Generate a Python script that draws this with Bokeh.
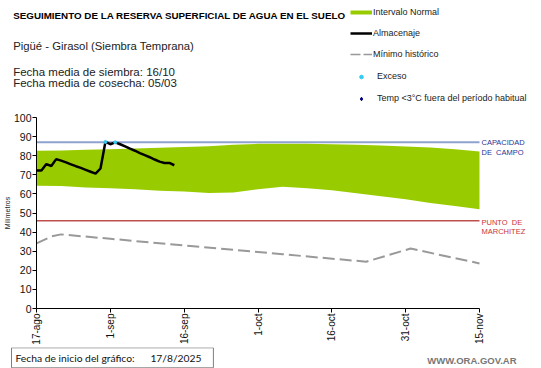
import math
from bokeh.plotting import figure
from bokeh.layouts import column
from bokeh.models import Range1d, FixedTicker, Label, Legend, LegendItem
from bokeh.embed import file_html
from bokeh.resources import INLINE

# ---- data (days since 17-ago) ----
band_days = [0, 5, 10, 15, 20, 25, 30, 35, 40, 45, 50, 55, 60, 65, 70, 75, 80, 85, 90]
band_upper = [82.6, 82.7, 83.1, 83.4, 83.8, 84.2, 84.5, 85.0, 85.7, 86.2, 86.3, 86.3,
              86.0, 85.7, 85.3, 84.8, 84.3, 83.4, 82.2]
band_lower = [64.3, 64.1, 63.4, 62.9, 62.4, 61.7, 61.2, 60.5, 60.7, 62.4, 63.8, 62.9,
              61.9, 60.3, 58.8, 57.2, 55.3, 53.6, 52.0]

stor_days = list(range(0, 29))
stor_values = [72.3, 72.2, 75.6, 74.6, 78.2, 77.4, 76.5, 75.5, 74.5, 73.6, 72.6, 71.6,
               70.6, 73.3, 87.2, 86.0, 87.0, 86.0, 84.9, 83.7, 82.6, 81.4, 80.3, 79.2,
               78.0, 76.9, 76.2, 76.2, 75.0]

exceso_days = [14, 16]
exceso_values = [87.2, 87.0]

min_days = [0, 3, 5, 15, 30, 50, 67, 76, 90]
min_values = [34.1, 37.7, 38.8, 36.5, 33.0, 28.4, 24.5, 31.4, 23.6]

x_ticks = [0, 15, 30, 45, 60, 75, 90]
x_tick_labels = ["17-ago", "1-sep", "16-sep", "1-oct", "16-oct", "31-oct", "15-nov"]
y_ticks = [0, 10, 20, 30, 40, 50, 60, 70, 80, 90, 100]

capacidad_campo = 87
punto_marchitez = 46
x_start, x_end = 0, 90

FONT = "Liberation Sans"
W = 541
L = 36          # left border of the chart
NB = "\u00a0"


def bare(fig):
    fig.outline_line_color = None
    fig.xgrid.grid_line_color = None
    fig.ygrid.grid_line_color = None
    fig.background_fill_color = "white"
    fig.border_fill_color = "white"


def label(fig, x, y, text, size, color="#000000", bold=False, font=FONT, units="data", **kw):
    fig.add_layout(Label(x=x, y=y, x_units=units, y_units=units, text=text,
                         text_font=font, text_font_size=size, text_color=color,
                         text_font_style="bold" if bold else "normal",
                         text_baseline="middle", **kw))


def panel_fig(h):
    f = figure(width=W, height=h, x_range=Range1d(0, W), y_range=Range1d(h, 0),
               output_backend="svg", toolbar_location=None, title=None,
               x_axis_type=None, y_axis_type=None, frame_align=False,
               min_border_left=0, min_border_right=0, min_border_top=0, min_border_bottom=0)
    bare(f)
    return f


# ================= header (title + legend); data units = page pixels =================
HH = 108
head = panel_fig(HH)

label(head, 12.7, 15, "SEGUIMIENTO DE LA RESERVA SUPERFICIAL DE AGUA EN EL SUELO", "9.8px", bold=True)
label(head, 12.7, 45, "Pigüé - Girasol (Siembra Temprana)", "11.3px", color="#222222")
label(head, 12.7, 71.7, "Fecha media de siembra: 16/10", "11.5px", color="#222222")
label(head, 12.7, 82.7, "Fecha media de cosecha: 05/03", "11.5px", color="#222222")

# legend-only renderers, kept outside the visible area
off_x, off_y = [-200, -190], [-50, -50]
h_green = head.line(x=off_x, y=off_y, line_color="#99CC00", line_width=4)
h_stor = head.line(x=off_x, y=off_y, line_color="#000000", line_width=2.5)
h_min = head.line(x=off_x, y=off_y, line_color="#999999", line_width=1.5, line_dash="10 3")
h_exc = head.scatter(x=off_x[:1], y=off_y[:1], marker="circle", size=3,
                     fill_color="#33CCEE", line_color="#33CCEE")
h_temp = head.scatter(x=off_x[:1], y=off_y[:1], marker="diamond", size=6,
                      fill_color="#000080", line_color="#000080")

common = dict(glyph_width=22, label_height=12, padding=0, margin=0,
              border_line_color=None, background_fill_alpha=0,
              label_text_font_size="9px", label_text_font=FONT,
              label_text_color="#222222")
leg1 = Legend(items=[LegendItem(label="Intervalo Normal", renderers=[h_green]),
                     LegendItem(label="Almacenaje", renderers=[h_stor]),
                     LegendItem(label="Mínimo histórico", renderers=[h_min])],
              location=(350, 48), spacing=9, label_standoff=1, glyph_height=12, **common)
leg2 = Legend(items=[LegendItem(label="Exceso", renderers=[h_exc]),
                     LegendItem(label="Temp <3°C fuera del período habitual", renderers=[h_temp])],
              location=(350, 4), spacing=10, label_standoff=5, glyph_height=9, **common)
head.add_layout(leg1)
head.add_layout(leg2)

# ================= main chart =================
MH = 239
px_per_day = (479 - L) / (x_end - x_start)
x_max = x_start + (W - L) / px_per_day
p = figure(width=W, height=MH, x_range=Range1d(x_start, x_max), y_range=Range1d(0, 100),
           output_backend="svg", toolbar_location=None, title=None, frame_align=False,
           min_border_left=L, min_border_right=0, min_border_top=9, min_border_bottom=36)
bare(p)

p.xaxis.ticker = FixedTicker(ticks=x_ticks)
p.xaxis.major_label_overrides = {t: l for t, l in zip(x_ticks, x_tick_labels)}
p.xaxis.major_label_orientation = math.pi / 2
p.xaxis.bounds = (x_start, x_end)
p.yaxis.ticker = FixedTicker(ticks=y_ticks)
p.yaxis.axis_label = "Milímetros"
p.yaxis.axis_label_text_font = FONT
p.yaxis.axis_label_text_font_size = "7px"
p.yaxis.axis_label_text_font_style = "normal"
p.yaxis.axis_label_text_color = "#222222"
p.yaxis.axis_label_standoff = 0
for ax in (p.xaxis, p.yaxis):
    ax.axis_line_color = "#000000"
    ax.axis_line_width = 1
    ax.major_tick_line_color = "#000000"
    ax.major_tick_out = 4
    ax.major_tick_in = 0
    ax.minor_tick_line_color = None
    ax.major_label_text_font = FONT
    ax.major_label_text_color = "#111111"
p.xaxis.major_label_text_font_size = "10px"
p.yaxis.major_label_text_font_size = "10.5px"
p.xaxis.major_label_standoff = 1
p.yaxis.major_label_standoff = 1

p.varea(x=band_days, y1=band_lower, y2=band_upper, fill_color="#99CC00")
p.line([x_start, x_end], [capacidad_campo, capacidad_campo], line_color="#8EA2D0", line_width=2)
p.line([x_start, x_end], [punto_marchitez, punto_marchitez], line_color="#C0504D", line_width=1.5)
p.line(min_days, min_values, line_color="#999999", line_width=2, line_dash="12 5")
p.line(stor_days, stor_values, line_color="#000000", line_width=2.5)
p.scatter(exceso_days, exceso_values, marker="circle", size=3,
          fill_color="#33CCEE", line_color="#33CCEE")

label(p, 481 - L, 166, "CAPACIDAD", "7.5px", color="#2E3192", units="screen")
label(p, 481 - L, 156.5, "DE" + NB + NB + "CAMPO", "7.5px", color="#2E3192", units="screen")
label(p, 481 - L, 86, "PUNTO" + NB + NB + "DE", "7.5px", color="#CC3333", units="screen")
label(p, 481 - L, 77, "MARCHITEZ", "7.5px", color="#CC3333", units="screen")

# ================= footer =================
FH = 21
foot = panel_fig(FH)
label(foot, 11, 10.3, "Fecha de inicio del gráfico:" + NB * 6 + "17/8/2025" + NB * 3, "10.3px",
      color="#111111", font="Lato", border_line_color="#7F7F7F", border_line_width=1,
      background_fill_color="white", padding=4)
label(foot, 426.7, 13, "WWW.ORA.GOV.AR", "9.5px", color="#777777", bold=True)

layout = column(head, p, foot, spacing=0)
open("out.html", "w").write(file_html(layout, INLINE))
